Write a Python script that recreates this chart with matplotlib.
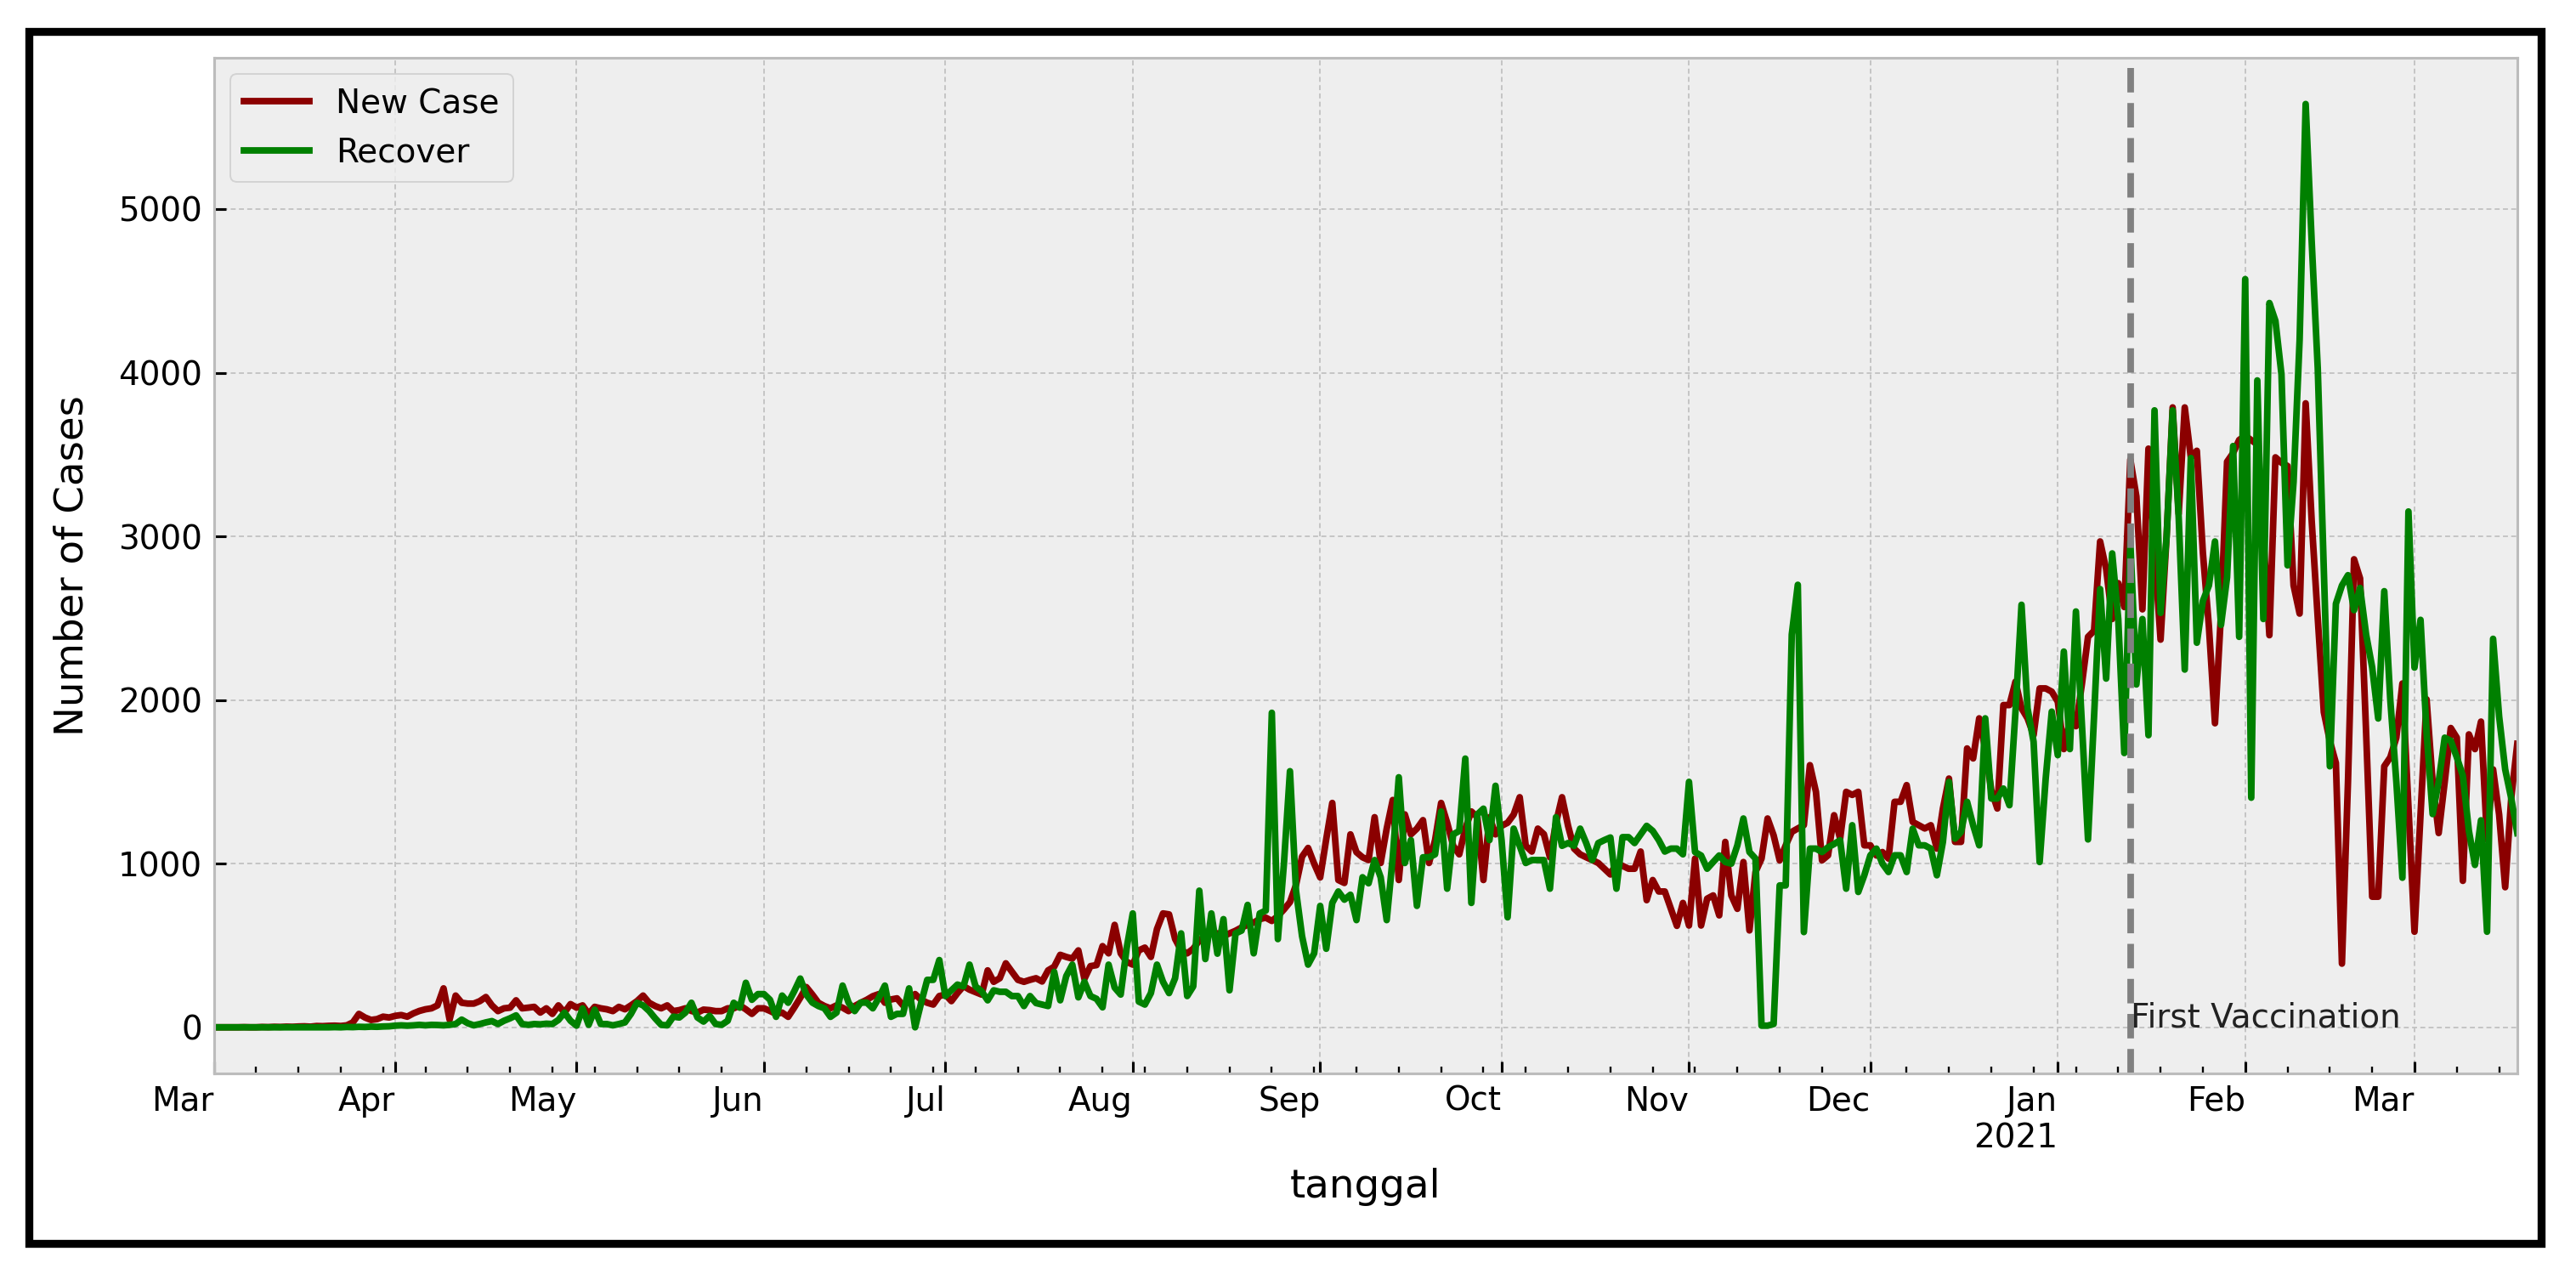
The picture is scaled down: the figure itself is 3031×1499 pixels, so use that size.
import pandas as pd
import matplotlib
matplotlib.use("Agg")
from matplotlib import pyplot as plt
from matplotlib import dates as mdates
from matplotlib import ticker
from matplotlib.patches import Rectangle

start_date = "2020-03-02"
vaccination_date = "2021-01-13"
vaccination_label = "First Vaccination"
series_labels = ["New Case", "Recover"]
series_colors = ["darkred", "green"]

# daily values, one row per month (Mar 2020 .. Mar 18 2021)
new_case = (
    [0, 0, 0, 0, 0, 1, 0, 0, 2, 1, 3, 2, 4, 3, 5, 6, 4, 8, 7, 9, 10, 8, 12, 30, 82, 60, 45, 50, 65, 60]
    + [70, 75, 65, 85, 100, 110, 116, 134, 238, 47, 194, 150, 145, 145, 160, 185, 134, 99, 116, 120,
       165, 116, 120, 125, 90, 116, 82, 134, 90, 142]
    + [120, 134, 82, 125, 116, 110, 99, 125, 110, 134, 160, 194, 150, 130, 116, 134, 99, 105, 116, 100,
       90, 108, 105, 99, 99, 116, 116, 134, 110, 82, 116]
    + [116, 100, 82, 90, 64, 120, 180, 246, 200, 150, 130, 116, 134, 120, 99, 130, 150, 168, 190, 203,
       150, 170, 177, 134, 160, 203, 168, 150, 139, 191]
    + [200, 160, 209, 252, 230, 215, 200, 348, 278, 300, 391, 340, 290, 278, 290, 300, 280, 348, 370, 443,
       430, 420, 470, 296, 374, 380, 496, 452, 626, 452, 400]
    + [383, 470, 487, 430, 600, 696, 690, 540, 470, 452, 480, 530, 560, 574, 574, 557, 574, 590, 610, 626,
       640, 661, 670, 650, 680, 720, 765, 870, 1043, 1096, 1000]
    + [916, 1150, 1371, 900, 882, 1179, 1070, 1039, 1022, 1284, 1004, 1214, 1389, 900, 1301, 1179, 1214,
       1266, 1004, 1144, 1371, 1250, 1109, 1057, 1214, 1319, 1284, 900, 1284, 1179]
    + [1231, 1250, 1300, 1406, 1109, 1074, 1214, 1180, 1039, 1249, 1406, 1231, 1092, 1057, 1039, 1022, 1004,
       969, 934, 1004, 987, 969, 969, 1074, 777, 900, 830, 830, 725, 620, 760]
    + [622, 1031, 622, 786, 806, 684, 1133, 806, 724, 1010, 592, 949, 1031, 1276, 1173, 1020, 1112, 1194,
       1215, 1235, 1602, 1439, 1020, 1051, 1296, 1153, 1439, 1420, 1439, 1112]
    + [1112, 1050, 1071, 1031, 1378, 1378, 1480, 1255, 1235, 1215, 1235, 1092, 1337, 1520, 1133, 1133, 1704,
       1643, 1888, 1700, 1450, 1337, 1969, 1969, 2112, 1950, 1888, 1786, 2071, 2071, 2051]
    + [1990, 1700, 1876, 1840, 2100, 2386, 2423, 2969, 2800, 2495, 2714, 2568, 3470, 3244, 2554, 3536, 2900,
       2369, 3000, 3788, 3138, 3788, 3483, 3523, 2900, 2448, 1858, 2532, 3456, 3509, 3589]
    + [3615, 3588, 3562, 3000, 2396, 3483, 3450, 3430, 2700, 2528, 3813, 3093, 2500, 1926, 1750, 1615, 389,
       1500, 2860, 2743, 1800, 798, 798, 1595, 1650, 1770, 2101, 1350]
    + [584, 1300, 2004, 1500, 1187, 1500, 1829, 1770, 895, 1790, 1700, 1868, 1148, 1576, 1300, 856, 1400, 1732]
)

recover = (
    [0, 0, 0, 0, 0, 0, 0, 0, 0, 0, 0, 0, 0, 0, 0, 0, 0, 0, 0, 0, 1, 0, 2, 1, 3, 2, 4, 3, 5, 6]
    + [10, 12, 10, 12, 15, 12, 15, 14, 12, 15, 20, 47, 25, 12, 20, 30, 38, 20, 40, 55,
       73, 20, 15, 20, 18, 22, 20, 45, 90, 40]
    + [10, 116, 15, 108, 20, 20, 12, 20, 30, 82, 150, 134, 100, 55, 15, 12, 65, 60, 90, 150,
       60, 35, 70, 20, 15, 40, 150, 120, 272, 168, 203]
    + [203, 168, 64, 194, 150, 220, 298, 200, 151, 130, 116, 64, 90, 255, 150, 99, 151, 151, 116, 180,
       255, 64, 82, 82, 238, 0, 150, 290, 290, 411]
    + [191, 226, 261, 250, 383, 250, 220, 165, 226, 217, 217, 191, 191, 130, 191, 148, 139, 130, 339, 165,
       313, 383, 183, 278, 191, 174, 122, 383, 243, 200, 487]
    + [696, 157, 139, 209, 383, 278, 209, 300, 574, 191, 250, 835, 417, 696, 450, 661, 226, 574, 591, 748,
       452, 696, 713, 1922, 539, 1000, 1565, 835, 557, 383, 452]
    + [742, 480, 760, 830, 780, 810, 655, 917, 880, 1022, 917, 655, 1040, 1528, 1004, 1144, 742, 1039, 1039,
       1057, 1319, 847, 1179, 1200, 1642, 760, 1301, 1336, 1144, 1476]
    + [1144, 672, 1214, 1109, 1004, 1022, 1022, 1022, 847, 1284, 1109, 1126, 1109, 1214, 1126, 1022, 1126,
       1144, 1160, 847, 1162, 1162, 1126, 1179, 1231, 1200, 1144, 1074, 1092, 1092, 1057]
    + [1500, 1071, 1050, 969, 1010, 1050, 1010, 1000, 1112, 1276, 1071, 1031, 10, 10, 20, 867, 867, 2400,
       2704, 582, 1092, 1092, 1071, 1100, 1120, 1143, 847, 1235, 827, 929]
    + [1051, 1092, 1000, 949, 1051, 1051, 949, 1214, 1112, 1112, 1092, 929, 1133, 1500, 1153, 1194, 1378,
       1235, 1112, 1888, 1398, 1398, 1459, 1357, 1929, 2582, 1949, 1745, 1010, 1520, 1929]
    + [1663, 2296, 1700, 2541, 1840, 1148, 1900, 2678, 2131, 2896, 2495, 1676, 2969, 2095, 2495, 1785, 3770,
       2532, 3000, 3770, 3115, 2186, 3479, 2350, 2605, 2700, 2969, 2459, 2750, 3552, 2386]
    + [4572, 1403, 3953, 2495, 4426, 4317, 3989, 2823, 3333, 4200, 5642, 4800, 4027, 2800, 1595, 2588, 2700,
       2763, 2549, 2685, 2400, 2200, 1887, 2665, 2000, 1500, 914, 3152]
    + [2198, 2490, 1800, 1303, 1500, 1770, 1751, 1650, 1537, 1200, 992, 1265, 584, 2374, 1900, 1576, 1400, 1187]
)


def month_label(x, pos):
    d = mdates.num2date(x)
    if d.month == 1:
        return d.strftime("%b\n%Y")
    return d.strftime("%b")


def plot_cases():
    plt.style.use("bmh")
    plt.rcParams["grid.color"] = "#c4c4c4"
    plt.rcParams["grid.linestyle"] = (0, (3, 2))
    dates = pd.date_range(start_date, periods=len(new_case), freq="D")

    fig = plt.figure(figsize=(3031 / 280, 1499 / 280), dpi=280)
    # black frame round the whole picture
    fig.patches.append(Rectangle((0.0112, 0.0237), 0.9753, 0.9513, transform=fig.transFigure,
                                 fill=False, edgecolor="black", linewidth=2.4))
    ax = fig.add_axes([0.0830, 0.1574, 0.8942, 0.7972])

    ax.plot(dates, new_case, color=series_colors[0], label=series_labels[0])
    ax.plot(dates, recover, color=series_colors[1], label=series_labels[1])
    vac = pd.Timestamp(vaccination_date)
    ax.axvline(vac, color="grey", linestyle="--")
    ax.text(vac, 0, vaccination_label, color="#222222")

    ax.set_xlim(dates[0], dates[-1])
    major = [dates[0]] + list(pd.date_range(dates[0], dates[-1], freq="MS"))
    ax.xaxis.set_major_locator(ticker.FixedLocator(mdates.date2num(major)))
    ax.xaxis.set_major_formatter(ticker.FuncFormatter(month_label))
    ax.xaxis.set_minor_locator(mdates.WeekdayLocator(byweekday=mdates.MO))
    plt.setp(ax.get_xticklabels(), ha="right")

    ax.set_xlabel("tanggal")
    ax.set_ylabel("Number of Cases", labelpad=8)
    ax.legend(loc="upper left")
    fig.savefig("out.png", dpi=280)


if __name__ == "__main__":
    plot_cases()
